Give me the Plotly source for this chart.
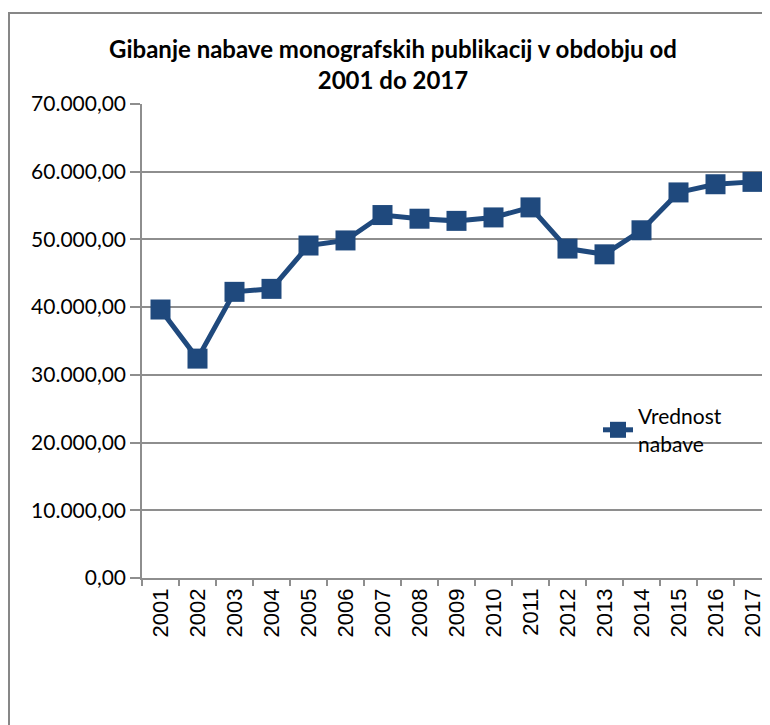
import plotly.graph_objects as go

years = [str(y) for y in range(2001, 2018)]
values = [39650, 32400, 42260, 42700, 49100, 49850, 53600, 53060, 52740,
          53250, 54730, 48650, 47800, 51350, 56940, 58150, 58500]
series_name = "Vrednost<br>nabave"
title_text = "Gibanje nabave monografskih publikacij v obdobju od<br>2001 do 2017"

line_color = "#1F497D"
grid_color = "#8E8E8E"

fig = go.Figure()
fig.add_trace(go.Scatter(
    x=years, y=values, mode="lines+markers", name=series_name,
    line=dict(color=line_color, width=5),
    marker=dict(symbol="square", size=20, color=line_color),
    showlegend=True,
))

# page has an 8px body margin; figure coordinates = screen - 8
L, T, B, R = 134, 96, 155, 7
W, H = 770, 725
pw = W - L - R
ph = H - T - B

def px_x(p):
    return (p - L) / pw

def px_y(p):
    return (H - B - p) / ph

fig.add_shape(type="rect", xref="paper", yref="paper",
              x0=px_x(1), x1=px_x(800), y0=px_y(760), y1=px_y(5),
              line=dict(color="#878787", width=2), fillcolor="rgba(0,0,0,0)",
              layer="below")

fig.update_layout(
    width=W, height=H,
    margin=dict(l=L, r=R, t=T, b=B, pad=0),
    paper_bgcolor="white", plot_bgcolor="white",
    separators=",.",
    title=dict(text="<b>" + title_text + "</b>", x=px_x(385), xref="paper",
               xanchor="center", y=1 - 50 / H, yanchor="top",
               font=dict(family="Lato", size=24, color="black")),
    xaxis=dict(type="category", range=[-0.5, 16.5], tickson="boundaries",
               ticks="outside", ticklen=6, tickcolor=grid_color, tickwidth=1.5,
               showgrid=False, showline=True, linecolor=grid_color, linewidth=1.5,
               tickangle=-90, tickfont=dict(family="Liberation Sans", size=22, color="black")),
    yaxis=dict(range=[0, 70000], tickvals=[0, 10000, 20000, 30000, 40000, 50000, 60000, 70000],
               tickformat=",.2f", ticks="outside", ticklen=10, tickcolor=grid_color,
               tickwidth=1.5, showgrid=True, gridcolor=grid_color, gridwidth=1.5,
               showline=True, linecolor=grid_color, linewidth=1.5, zeroline=False,
               tickfont=dict(family="Lato", size=21, color="black")),
    legend=dict(x=px_x(590), y=px_y(388), xanchor="left", yanchor="top",
                bgcolor="rgba(0,0,0,0)", font=dict(family="Lato", size=21, color="black")),
)

fig.write_html("out.html")
